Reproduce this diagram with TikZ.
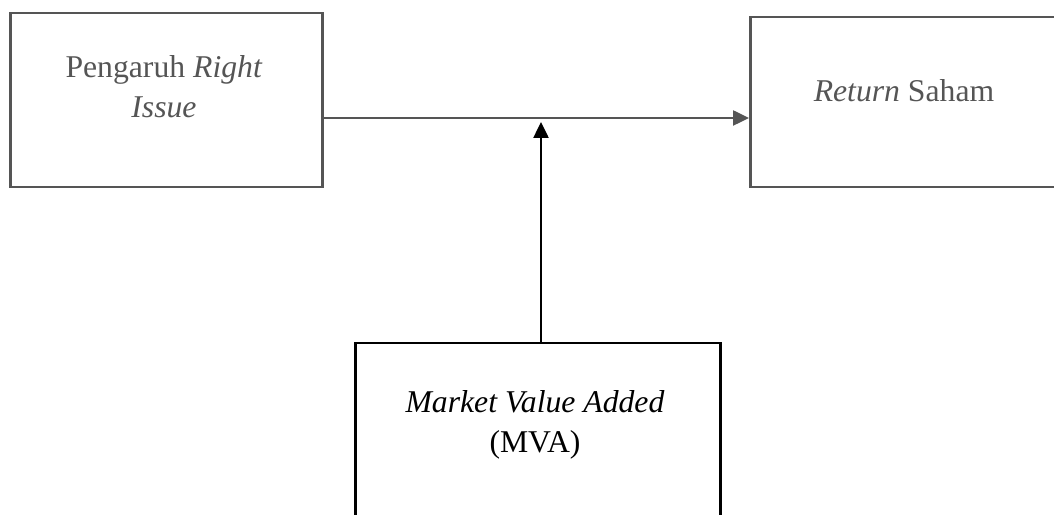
\documentclass[tikz,border=0pt]{standalone}
\usepackage{fontspec}
\setmainfont{Liberation Serif}
\usetikzlibrary{arrows.meta}
\definecolor{wm}{HTML}{555555}
\begin{document}
\begin{tikzpicture}[x=1pt,y=1pt,
  box/.style={draw, line width=2.5pt, inner sep=0pt, anchor=north west},
  lbl/.style={font=\fontsize{31.7}{40}\selectfont, align=center, inner sep=0pt, anchor=base},
  arr/.style={line width=2.5pt, -{Triangle[length=16pt,width=15pt]}}]
\useasboundingbox (0,0) rectangle (1054,514);
\clip (0,0) rectangle (1054,514);
% boxes (y measured downward from top: tikz y = 514 - y)
\node[box, draw=wm, minimum width=312pt, minimum height=174pt] (A) at (9,502) {};
\node[box, draw=wm, minimum width=320pt, minimum height=170pt] (B) at (749,498) {};
\node[box, draw=black, minimum width=365pt, minimum height=200pt] (C) at (354,172) {};
% labels
\node[lbl, text=wm] (tA) at (164,396) {Pengaruh \textit{Right}\\\textit{Issue}};
\node[lbl, text=wm] (tB) at (904,412) {\textit{Return} Saham};
\node[lbl, text=black] (tC) at (535,62) {\textit{Market Value Added}\\(MVA)};
% connectors
\coordinate (hs) at (323,396);
\coordinate (vt) at (541,392);
\draw[arr, draw=wm, fill=wm] (hs) -- (B.west |- hs);
\draw[arr, draw=black] (C.north -| vt) -- (vt);
\end{tikzpicture}
\end{document}
